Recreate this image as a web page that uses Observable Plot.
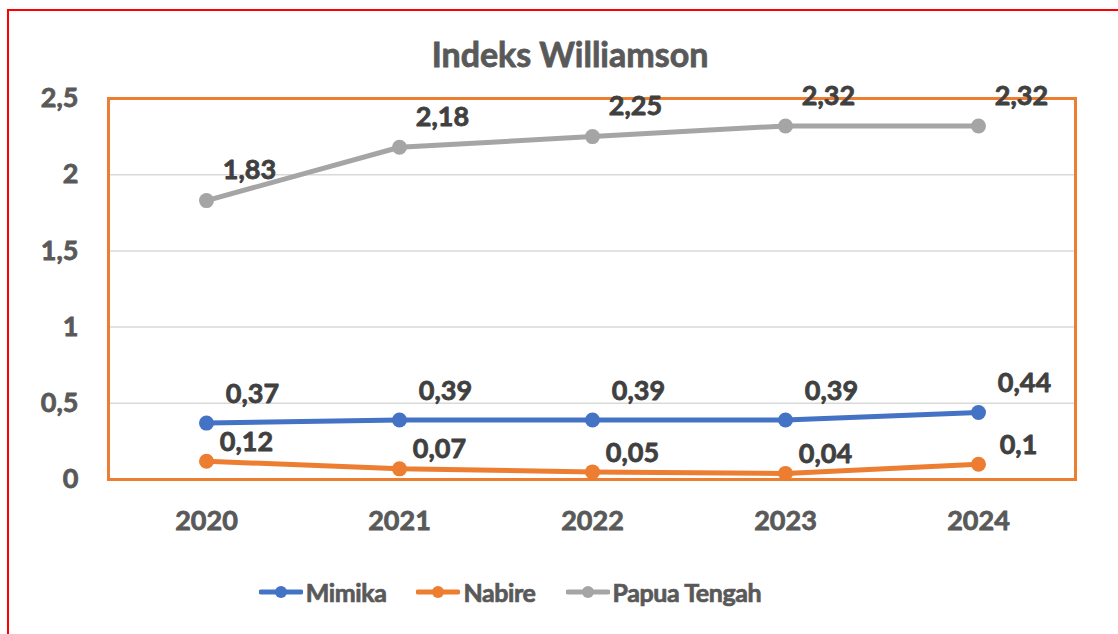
<!DOCTYPE html>
<html>
<head>
<meta charset="utf-8">
<script src="https://cdn.jsdelivr.net/npm/d3@7"></script>
<script src="https://cdn.jsdelivr.net/npm/@observablehq/plot@0.6"></script>
<style>
  html, body { margin: 0; padding: 0; background: #fff; }
  #wrap { position: relative; width: 1118px; height: 634px; overflow: hidden; font-family: Lato, "Open Sans", sans-serif; }
  #border { position: absolute; left: 7px; top: 9px; width: 1130px; height: 650px; border: 2px solid #FF0000; box-sizing: border-box; }
  #title { position: absolute; left: 0; width: 1140px; top: 33px; text-align: center; font-size: 34px; font-weight: 700; color: #595959; -webkit-text-stroke: 0.8px #595959; }
  #chart { position: absolute; left: 0; top: 0; }
  #legend { position: absolute; left: 0; width: 1020px; top: 577px; display: flex; justify-content: center; gap: 30px; font-size: 25px; letter-spacing: -0.4px; font-weight: 700; color: #595959; -webkit-text-stroke: 0.7px #595959; }
  .item { display: flex; align-items: center; gap: 3px; }
  #chart g[aria-label="y-axis tick label"] text,
  #chart g[aria-label="x-axis tick label"] text { stroke: #595959; stroke-width: 0.8px; paint-order: stroke; }
</style>
</head>
<body>
<div id="wrap">
  <div id="border"></div>
  <div id="title">Indeks Williamson</div>
  <div id="chart"></div>
  <div id="legend"></div>
</div>
<script>
const years = ["2020", "2021", "2022", "2023", "2024"];
const seriesNames = ["Mimika", "Nabire", "Papua Tengah"];
const mimika = [0.37, 0.39, 0.39, 0.39, 0.44];
const nabire = [0.12, 0.07, 0.05, 0.04, 0.10];
const papuaTengah = [1.83, 2.18, 2.25, 2.32, 2.32];
const colors = ["#4472C4", "#ED7D31", "#A5A5A5"];
const yTicks = [0, 0.5, 1, 1.5, 2, 2.5];

const valuesBySeries = [mimika, nabire, papuaTengah];
const data = [];
seriesNames.forEach((s, i) => years.forEach((y, j) => data.push({series: s, year: y, value: valuesBySeries[i][j]})));

const fmt = v => String(+v.toFixed(2)).replace(".", ",");

const labelOffsets = {"Mimika": [46, -29], "Nabire": [40, -19], "Papua Tengah": [43, -30]};

const plot = Plot.plot({
  width: 1118,
  height: 634,
  marginLeft: 108,
  marginRight: 43,
  marginTop: 98,
  marginBottom: 155,
  style: {fontFamily: "Lato, 'Open Sans', sans-serif", fontWeight: "700", color: "#595959", background: "transparent", overflow: "visible"},
  x: {type: "point", domain: years, padding: 0.5, label: null},
  y: {domain: [0, 2.5], label: null},
  color: {domain: seriesNames, range: colors},
  marks: [
    Plot.gridY([0.5, 1, 1.5, 2], {stroke: "#D9D9D9", strokeOpacity: 1, strokeWidth: 1.5}),
    Plot.ruleY([0], {stroke: "#D9D9D9", strokeWidth: 1.5}),
    Plot.frame({stroke: "#ED7D31", strokeWidth: 3}),
    Plot.axisY(yTicks, {tickSize: 0, tickPadding: 30, tickFormat: fmt, fontSize: 27, fill: "#595959", label: null}),
    Plot.axisX({tickSize: 0, tickPadding: 31, fontSize: 27, fill: "#595959", label: null}),
    Plot.line(data, {x: "year", y: "value", z: "series", stroke: "series", strokeWidth: 5}),
    Plot.dot(data, {x: "year", y: "value", fill: "series", r: 7.5}),
    ...seriesNames.map(s => Plot.text(data.filter(d => d.series === s), {
      x: "year", y: "value", text: d => fmt(d.value),
      dx: labelOffsets[s][0], dy: labelOffsets[s][1],
      fontSize: 27, fontWeight: 700, fill: "#404040", stroke: "#404040", strokeWidth: 0.8
    }))
  ]
});
document.getElementById("chart").appendChild(plot);

const legend = document.getElementById("legend");
seriesNames.forEach((s, i) => {
  const item = document.createElement("div");
  item.className = "item";
  item.innerHTML = `<svg width="44" height="16"><line x1="2" y1="8" x2="42" y2="8" stroke="${colors[i]}" stroke-width="5" stroke-linecap="round"/><circle cx="22" cy="8" r="6" fill="${colors[i]}"/></svg><span>${s}</span>`;
  legend.appendChild(item);
});
</script>
</body>
</html>
